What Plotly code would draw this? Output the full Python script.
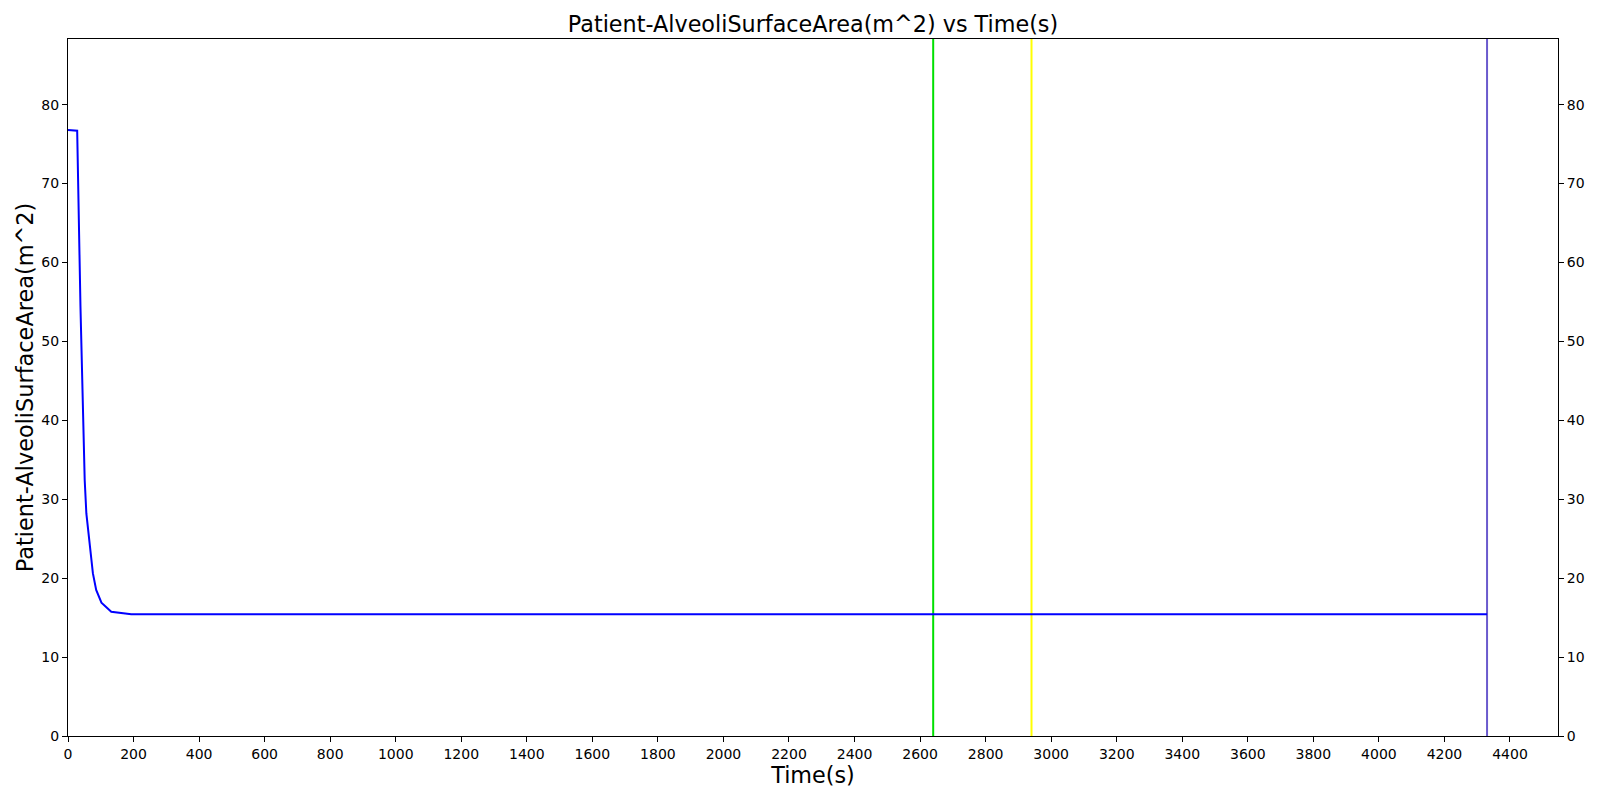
import plotly.graph_objects as go

# Curve samples (time in s, area in m^2)
time_s = [0, 28, 38, 46, 51, 56, 66, 76, 86, 102, 132, 168, 193,
          390, 587, 784, 981, 1178, 1375, 1572, 1769, 1966, 2163, 2360,
          2557, 2754, 2951, 3148, 3345, 3542, 3739, 3936, 4130, 4330]
area_m2 = [76.8, 76.7, 54.5, 40.0, 32.4, 28.2, 24.0, 20.6, 18.5, 16.9, 15.75, 15.5, 15.42,
           15.42, 15.42, 15.42, 15.42, 15.42, 15.42, 15.42, 15.42, 15.42, 15.42, 15.42,
           15.42, 15.42, 15.42, 15.42, 15.42, 15.42, 15.42, 15.42, 15.42, 15.42]

event_times = [2640, 2940, 4330]
event_colors = ["#00e000", "#ffff00", "#6a5acd"]

x_ticks = list(range(0, 4401, 200))
y_ticks = list(range(0, 81, 10))

x_max = max(time_s) * 1.05
y_max = max(area_m2) * 1.15

FONT = "DejaVu Sans"

fig = go.Figure()

for t, c in zip(event_times, event_colors):
    fig.add_trace(go.Scatter(x=[t, t], y=[0, y_max], mode="lines",
                             line=dict(color=c, width=2), showlegend=False,
                             hoverinfo="skip"))

fig.add_trace(go.Scatter(x=time_s, y=area_m2, mode="lines",
                         line=dict(color="#0000ff", width=2), showlegend=False))

# invisible trace for right axis
fig.add_trace(go.Scatter(x=[0], y=[0], yaxis="y2", mode="markers",
                         marker=dict(opacity=0), showlegend=False, hoverinfo="skip"))

axis_common = dict(showgrid=False, zeroline=False, showline=True, linecolor="black",
                   linewidth=1, ticks="outside", ticklen=5, tickwidth=1, tickcolor="black",
                   tickfont=dict(family=FONT, size=14, color="black"))

fig.update_layout(
    width=1600, height=800,
    margin=dict(l=68, r=42, t=39, b=64),
    paper_bgcolor="white", plot_bgcolor="white",
    title=dict(text="Patient-AlveoliSurfaceArea(m^2) vs Time(s)",
               font=dict(family=FONT, size=22.3, color="black"),
               x=0.5, xanchor="center", xref="paper", y=0.97, yanchor="middle", yref="container"),
    xaxis=dict(range=[0, x_max], tickvals=x_ticks, mirror=True,
               title=dict(text="Time(s)", font=dict(family=FONT, size=22.3, color="black"), standoff=4),
               **axis_common),
    yaxis=dict(range=[0, y_max], tickvals=y_ticks,
               title=dict(text="Patient-AlveoliSurfaceArea(m^2)",
                          font=dict(family=FONT, size=22.4, color="black"), standoff=1),
               **axis_common),
    yaxis2=dict(range=[0, y_max], tickvals=y_ticks, overlaying="y", side="right",
                **axis_common),
)

fig.write_html("out.html", config={"displayModeBar": False},
               post_script="document.body.style.margin='0';document.body.style.overflow='hidden';")
